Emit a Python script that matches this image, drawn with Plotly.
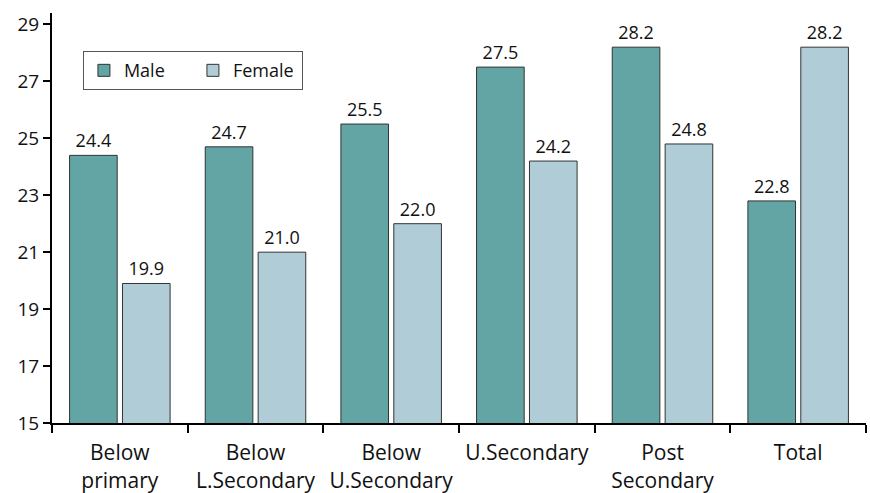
import plotly.graph_objects as go

categories = ["Below<br>primary", "Below<br>L.Secondary", "Below<br>U.Secondary",
              "U.Secondary", "Post<br>Secondary", "Total"]
male = [24.4, 24.7, 25.5, 27.5, 28.2, 22.8]
female = [19.9, 21.0, 22.0, 24.2, 24.8, 28.2]
y_ticks = [15, 17, 19, 21, 23, 25, 27, 29]

FONT = "Open Sans"

fig = go.Figure()
fig.add_trace(go.Bar(
    name="Male", x=categories, y=male,
    marker=dict(color="#62a5a4", line=dict(color="#333333", width=1)),
    text=[f"{v:.1f}" for v in male], textposition="outside",
    textfont=dict(size=18, color="#111", family=FONT), cliponaxis=False,
))
fig.add_trace(go.Bar(
    name="Female", x=categories, y=female,
    marker=dict(color="#b0cdd7", line=dict(color="#333333", width=1)),
    text=[f"{v:.1f}" for v in female], textposition="outside",
    textfont=dict(size=18, color="#111", family=FONT), cliponaxis=False,
))

fig.update_layout(
    width=870, height=493,
    margin=dict(l=52, r=4, t=13, b=70),
    paper_bgcolor="white", plot_bgcolor="white",
    barmode="group", bargap=0.22, bargroupgap=0.1,
    font=dict(family=FONT, size=18, color="#111"),
    legend=dict(
        orientation="h", x=0.038, y=0.907, xanchor="left", yanchor="top",
        bordercolor="#555", borderwidth=1, bgcolor="white",
        font=dict(size=18), itemwidth=30, entrywidth=64,
        tracegroupgap=0,
    ),
    yaxis=dict(
        range=[15, 29.4], tickvals=y_ticks, showgrid=False, zeroline=False,
        showline=True, linecolor="black", linewidth=2,
        ticks="outside", ticklen=7, tickwidth=2, tickcolor="black",
        tickfont=dict(size=19), automargin=False,
    ),
    xaxis=dict(
        showgrid=False, showline=True, linecolor="black", linewidth=2,
        ticks="outside", ticklen=8, tickwidth=2, tickcolor="black",
        tickson="boundaries", tickfont=dict(size=21),
        ticklabelstandoff=10, automargin=False,
    ),
)

fig.write_html("out.html")
